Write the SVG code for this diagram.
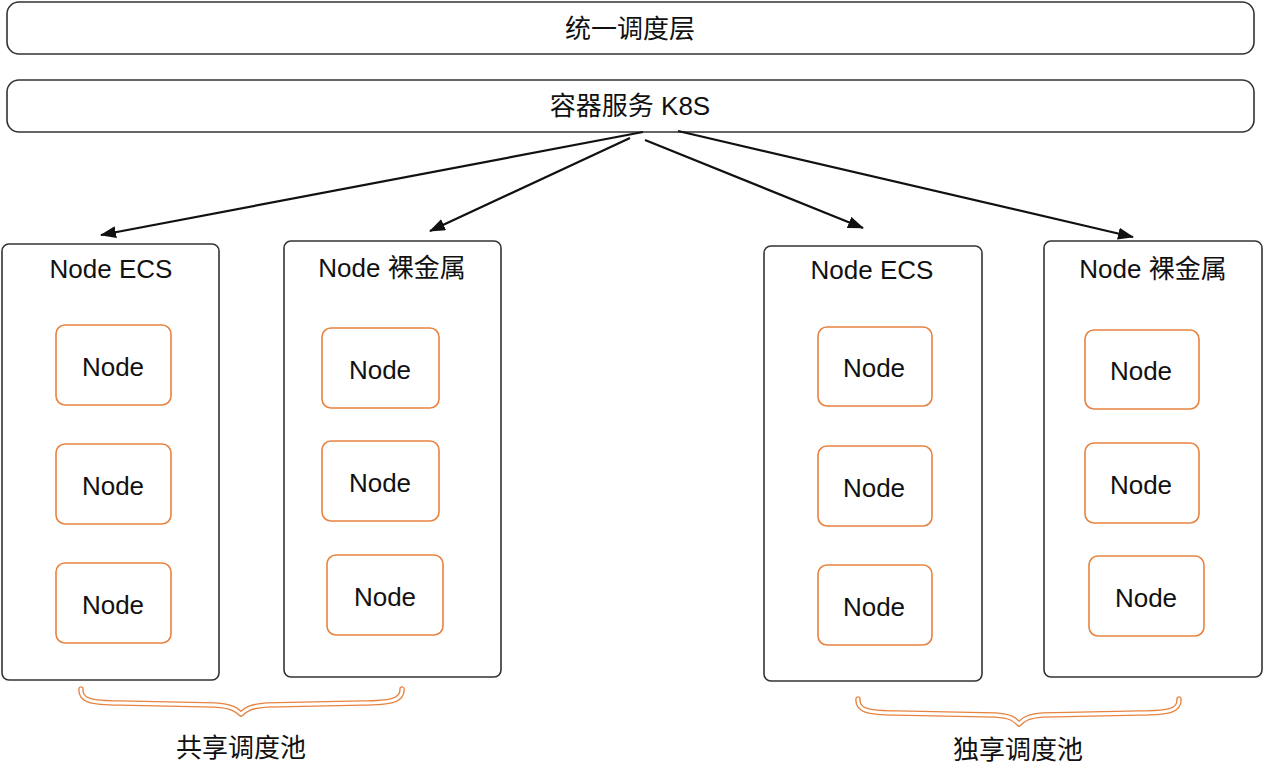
<svg xmlns="http://www.w3.org/2000/svg" width="1264" height="776" viewBox="0 0 1264 776">
<style>
.bar{fill:#fff;stroke:#333;stroke-width:1.6}
.box{fill:#fff;stroke:#333;stroke-width:1.6}
.nd{fill:#fff;stroke:#E8823F;stroke-width:1.6}
.t{font-family:"Liberation Sans","Noto Sans CJK SC",sans-serif;font-size:26px;fill:#111;text-anchor:middle;dominant-baseline:central}
.lb{font-size:26px}
.ar{stroke:#111;stroke-width:2.2;fill:none;marker-end:url(#ah)}
.bro{fill:none;stroke:#E8823F;stroke-width:5.5;stroke-linecap:round;stroke-linejoin:round}
.brw{fill:none;stroke:#fff;stroke-width:2.8;stroke-linecap:round;stroke-linejoin:round}
</style>
<defs>
<marker id="ah" markerUnits="userSpaceOnUse" markerWidth="16" markerHeight="12" refX="15" refY="6" orient="auto">
<path d="M0,0 L16,6 L0,12 Z" fill="#111"/>
</marker>
</defs>
<rect width="1264" height="776" fill="#fff"/>
<g id="sched">
<rect class="bar" x="7" y="2" width="1247" height="52" rx="12"/>
<text class="t" x="630" y="29">统一调度层</text>
</g>
<g id="k8s">
<rect class="bar" x="7" y="80" width="1247" height="52" rx="12"/>
<text class="t" x="630" y="106">容器服务 K8S</text>
</g>
<g id="connectors">
<line class="ar" x1="643" y1="132" x2="101" y2="235"/>
<line class="ar" x1="630" y1="138" x2="430" y2="231"/>
<line class="ar" x1="645" y1="140" x2="863" y2="228"/>
<line class="ar" x1="678" y1="131" x2="1133" y2="237"/>
</g>
<g id="ecs1">
<rect class="box" x="2" y="244" width="217" height="436" rx="7"/>
<text class="t" x="111" y="269">Node ECS</text>
<rect class="nd" x="56" y="325" width="115" height="80" rx="9"/>
<text class="t" x="113" y="367">Node</text>
<rect class="nd" x="56" y="444" width="115" height="80" rx="9"/>
<text class="t" x="113" y="486">Node</text>
<rect class="nd" x="56" y="563" width="115" height="80" rx="9"/>
<text class="t" x="113" y="605">Node</text>
</g>
<g id="bm1">
<rect class="box" x="284" y="241" width="217" height="436" rx="7"/>
<text class="t" x="392" y="268">Node 裸金属</text>
<rect class="nd" x="322" y="328" width="117" height="80" rx="9"/>
<text class="t" x="380" y="370">Node</text>
<rect class="nd" x="322" y="441" width="117" height="80" rx="9"/>
<text class="t" x="380" y="483">Node</text>
<rect class="nd" x="327" y="555" width="116" height="80" rx="9"/>
<text class="t" x="385" y="597">Node</text>
</g>
<g id="ecs2">
<rect class="box" x="764" y="246" width="218" height="435" rx="7"/>
<text class="t" x="872" y="270">Node ECS</text>
<rect class="nd" x="818" y="327" width="114" height="79" rx="9"/>
<text class="t" x="874" y="368">Node</text>
<rect class="nd" x="818" y="446" width="114" height="80" rx="9"/>
<text class="t" x="874" y="488">Node</text>
<rect class="nd" x="818" y="565" width="114" height="80" rx="9"/>
<text class="t" x="874" y="607">Node</text>
</g>
<g id="bm2">
<rect class="box" x="1044" y="241" width="218" height="436" rx="7"/>
<text class="t" x="1153" y="269">Node 裸金属</text>
<rect class="nd" x="1085" y="330" width="114" height="79" rx="9"/>
<text class="t" x="1141" y="371">Node</text>
<rect class="nd" x="1085" y="443" width="114" height="80" rx="9"/>
<text class="t" x="1141" y="485">Node</text>
<rect class="nd" x="1089" y="556" width="115" height="80" rx="9"/>
<text class="t" x="1146" y="598">Node</text>
</g>
<g id="shared">
<path class="bro" d="M81,689 C80,700 90,703 120,703 L215,705 C232,706 237,710 241,714 C245,710 250,706 267,705 L362,703 C392,703 403,700 402,689"/>
<path class="brw" d="M81,689 C80,700 90,703 120,703 L215,705 C232,706 237,710 241,714 C245,710 250,706 267,705 L362,703 C392,703 403,700 402,689"/>
<text class="t lb" x="241" y="748">共享调度池</text>
</g>
<g id="exclusive">
<path class="bro" d="M858,699 C857,710 867,713 897,713 L995,715 C1012,716 1015,720 1019,724 C1023,720 1027,716 1043,715 L1140,713 C1170,713 1180,710 1179,699"/>
<path class="brw" d="M858,699 C857,710 867,713 897,713 L995,715 C1012,716 1015,720 1019,724 C1023,720 1027,716 1043,715 L1140,713 C1170,713 1180,710 1179,699"/>
<text class="t lb" x="1018" y="750">独享调度池</text>
</g>
</svg>
